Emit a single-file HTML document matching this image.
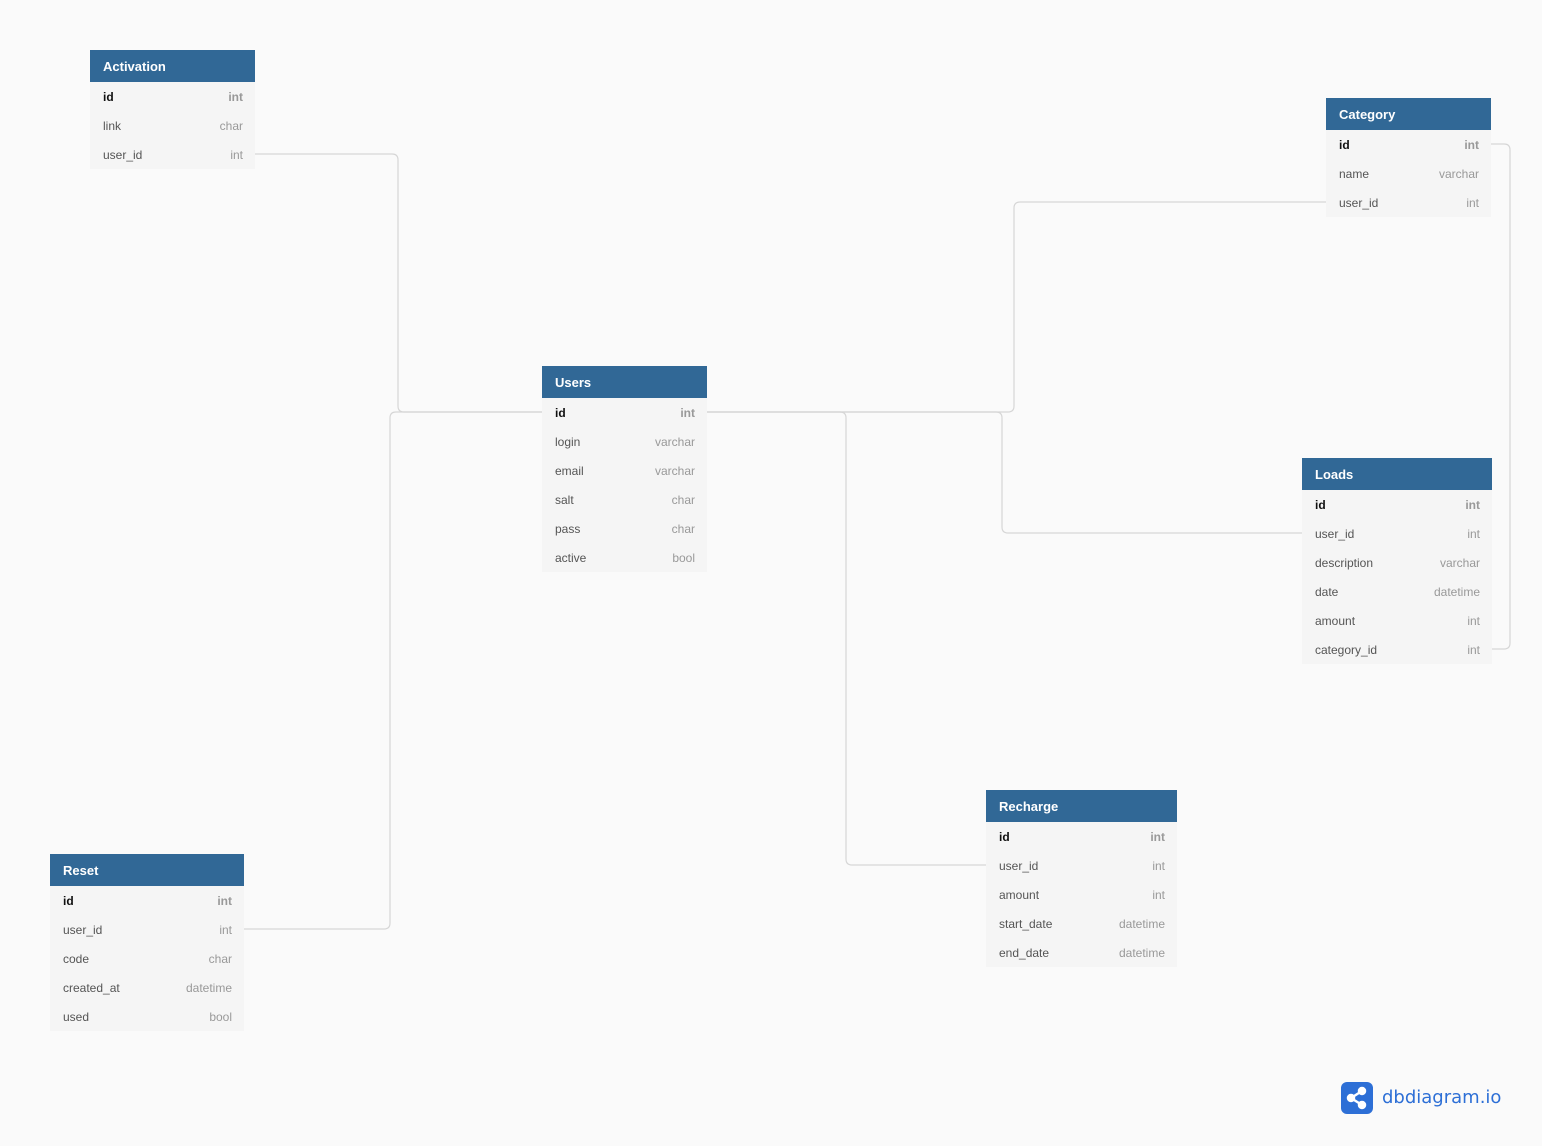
<!DOCTYPE html><html><head><style>
body{margin:0;width:1542px;height:1146px;background:#fafafa;font-family:"Liberation Sans",sans-serif;position:relative;overflow:hidden}
.t{position:absolute;background:#f5f5f5}
.h{background:#316896;color:#fff;font-weight:bold;font-size:13px;height:32px;line-height:33px;padding-left:13px}
.r{height:29px;line-height:30px;font-size:12px;color:#555;padding:0 12px 0 13px;display:flex;justify-content:space-between}
.r span:last-child{color:#999}
.r.k span:first-child{color:#111;font-weight:bold}.r.k span:last-child{font-weight:bold}
svg{position:absolute;left:0;top:0}
</style></head><body>
<svg width="1542" height="1146" fill="none" stroke="#d6d6d6" stroke-width="1.2">
<path d="M255 154H392q6 0 6 6V406q0 6 6 6H542"/>
<path d="M244 929H384q6 0 6-6V418q0-6 6-6H542"/>
<path d="M707 412H1008q6 0 6-6V208q0-6 6-6H1326"/>
<path d="M707 412H996q6 0 6 6V527q0 6 6 6H1302"/>
<path d="M707 412H840q6 0 6 6V859q0 6 6 6H986"/>
<path d="M1491 144H1504q6 0 6 6V643q0 6-6 6H1492"/>
</svg>
<div class="t" style="left:90px;top:50px;width:165px"><div class="h">Activation</div><div class="r k"><span>id</span><span>int</span></div><div class="r"><span>link</span><span>char</span></div><div class="r"><span>user_id</span><span>int</span></div></div>
<div class="t" style="left:1326px;top:98px;width:165px"><div class="h">Category</div><div class="r k"><span>id</span><span>int</span></div><div class="r"><span>name</span><span>varchar</span></div><div class="r"><span>user_id</span><span>int</span></div></div>
<div class="t" style="left:542px;top:366px;width:165px"><div class="h">Users</div><div class="r k"><span>id</span><span>int</span></div><div class="r"><span>login</span><span>varchar</span></div><div class="r"><span>email</span><span>varchar</span></div><div class="r"><span>salt</span><span>char</span></div><div class="r"><span>pass</span><span>char</span></div><div class="r"><span>active</span><span>bool</span></div></div>
<div class="t" style="left:1302px;top:458px;width:190px"><div class="h">Loads</div><div class="r k"><span>id</span><span>int</span></div><div class="r"><span>user_id</span><span>int</span></div><div class="r"><span>description</span><span>varchar</span></div><div class="r"><span>date</span><span>datetime</span></div><div class="r"><span>amount</span><span>int</span></div><div class="r"><span>category_id</span><span>int</span></div></div>
<div class="t" style="left:986px;top:790px;width:191px"><div class="h">Recharge</div><div class="r k"><span>id</span><span>int</span></div><div class="r"><span>user_id</span><span>int</span></div><div class="r"><span>amount</span><span>int</span></div><div class="r"><span>start_date</span><span>datetime</span></div><div class="r"><span>end_date</span><span>datetime</span></div></div>
<div class="t" style="left:50px;top:854px;width:194px"><div class="h">Reset</div><div class="r k"><span>id</span><span>int</span></div><div class="r"><span>user_id</span><span>int</span></div><div class="r"><span>code</span><span>char</span></div><div class="r"><span>created_at</span><span>datetime</span></div><div class="r"><span>used</span><span>bool</span></div></div>
<div style="position:absolute;left:1341px;top:1082px;width:32px;height:32px;border-radius:6px;background:#2d6fd6"><svg width="32" height="32" stroke="#fff" stroke-width="2.5" fill="#fff"><path d="M10 16L21 9M10 16L21 23"/><circle cx="10" cy="16" r="3"/><circle cx="21" cy="9" r="3"/><circle cx="21" cy="23" r="3"/></svg></div>
<div style="position:absolute;left:1382px;top:1087px;font-size:18px;color:#2d6fd6;font-family:'DejaVu Sans',sans-serif">dbdiagram.io</div>
</body></html>
